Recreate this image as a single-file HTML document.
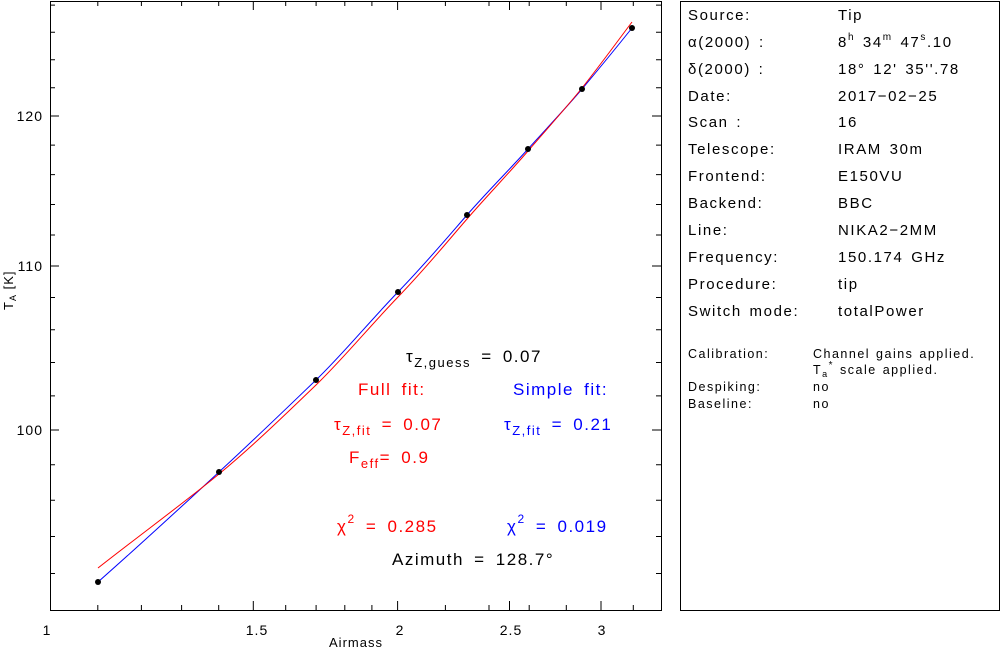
<!DOCTYPE html>
<html><head><meta charset="utf-8"><style>
html,body{margin:0;padding:0;background:#fff;}
svg{display:block;font-family:"Liberation Sans",sans-serif;}
</style></head><body>
<svg width="1001" height="649" viewBox="0 0 1001 649" xmlns="http://www.w3.org/2000/svg">
<rect x="50.5" y="1.5" width="611" height="609" fill="none" stroke="#000" stroke-width="1"/>
<rect x="680.5" y="1.5" width="319" height="609" fill="none" stroke="#000" stroke-width="1"/>
<g stroke="#000" stroke-width="1">
<path d="M50 116h9M50 266h9M50 430h9M661 116h-9M661 266h-9M661 430h-9"/>
<path d="M50 573.5h5M50 536.5h5M50 500.3h5M50 464.8h5M50 395.9h5M50 362.5h5M50 329.7h5M50 297.5h5M50 235h5M50 204.5h5M50 174.6h5M50 145.1h5M50 87.7h5M50 59.8h5M50 32.3h5M50 5.1h5"/>
<path d="M661 573.5h-5M661 536.5h-5M661 500.3h-5M661 464.8h-5M661 395.9h-5M661 362.5h-5M661 329.7h-5M661 297.5h-5M661 235h-5M661 204.5h-5M661 174.6h-5M661 145.1h-5M661 87.7h-5M661 59.8h-5M661 32.3h-5M661 5.1h-5"/>
<path d="M253.3 610v-9M397.6 610v-9M509.5 610v-9M601 610v-9M253.3 1v9M397.6 1v9M509.5 1v9M601 1v9"/>
<path d="M97.8 610v-5M141.4 610v-5M181.6 610v-5M218.7 610v-5M285.7 610v-5M316.1 610v-5M344.8 610v-5M371.9 610v-5M445.4 610v-5M489 610v-5M529.2 610v-5M566.3 610v-5M633.3 610v-5"/>
<path d="M97.8 1v5M141.4 1v5M181.6 1v5M218.7 1v5M285.7 1v5M316.1 1v5M344.8 1v5M371.9 1v5M445.4 1v5M489 1v5M529.2 1v5M566.3 1v5M633.3 1v5"/>
</g>
<g font-size="14" fill="#000" letter-spacing="1">
<text x="47" y="635" text-anchor="middle">1</text>
<text x="257" y="635" text-anchor="middle">1.5</text>
<text x="400" y="635" text-anchor="middle">2</text>
<text x="511" y="635" text-anchor="middle">2.5</text>
<text x="602" y="635" text-anchor="middle">3</text>
<text x="356" y="647" text-anchor="middle" font-size="13">Airmass</text>
<text x="43" y="121" text-anchor="end">120</text>
<text x="43" y="271" text-anchor="end">110</text>
<text x="43" y="435" text-anchor="end">100</text>
<text transform="translate(13,310) rotate(-90)" font-size="13">T<tspan font-size="9" dy="3">A</tspan><tspan dy="-3"> [K]</tspan></text>
</g>
<path d="M98 582 C140 545 180 508 219 472 S 290 405 316 380 S 370 321 398 292 S 447 238 467 215 S 510 169 528 149 S 566 108 582 89 S 620 43 632 28" fill="none" stroke="#00f" stroke-width="1"/>
<path d="M98 568 C140 535 185 502 219 474 S 290 410 316 385 S 370 326 398 297 S 447 242 467 219 S 510 172 528 151 S 566 108 582 88 S 620 38 632 22" fill="none" stroke="#f00" stroke-width="1"/>
<g fill="#000">
<circle cx="98" cy="582" r="3"/>
<circle cx="219" cy="472" r="3"/>
<circle cx="316" cy="380" r="3"/>
<circle cx="398" cy="292" r="3"/>
<circle cx="467" cy="215" r="3"/>
<circle cx="528" cy="149" r="3"/>
<circle cx="582" cy="89" r="3"/>
<circle cx="632" cy="28" r="3"/>
</g>
<g font-size="17" letter-spacing="1.5" word-spacing="4">
<text x="406" y="362" fill="#000">τ<tspan font-size="13" dy="5">Z,guess</tspan><tspan dy="-5"> = 0.07</tspan></text>
<text x="358" y="395" fill="#f00">Full fit:</text>
<text x="513" y="395" fill="#00f">Simple fit:</text>
<text x="334" y="430" fill="#f00">τ<tspan font-size="13" dy="5">Z,fit</tspan><tspan dy="-5"> = 0.07</tspan></text>
<text x="504" y="430" fill="#00f">τ<tspan font-size="13" dy="5">Z,fit</tspan><tspan dy="-5"> = 0.21</tspan></text>
<text x="349" y="463" fill="#f00">F<tspan font-size="13" dy="5">eff</tspan><tspan dy="-5">= 0.9</tspan></text>
<text x="337" y="532" fill="#f00">χ<tspan font-size="12" dy="-9">2</tspan><tspan dy="9"> = 0.285</tspan></text>
<text x="507" y="532" fill="#00f">χ<tspan font-size="12" dy="-9">2</tspan><tspan dy="9"> = 0.019</tspan></text>
<text x="392" y="565" fill="#000">Azimuth = 128.7°</text>
</g>
<g font-size="15" fill="#000" letter-spacing="1.6" word-spacing="2">
<text x="688" y="20">Source:</text><text x="838" y="20">Tip</text>
<text x="688" y="47">α(2000) :</text><text x="838" y="47">8<tspan font-size="10" dy="-7">h</tspan><tspan dy="7"> 34</tspan><tspan font-size="10" dy="-7">m</tspan><tspan dy="7"> 47</tspan><tspan font-size="10" dy="-7">s</tspan><tspan dy="7">.10</tspan></text>
<text x="688" y="74">δ(2000) :</text><text x="838" y="74">18° 12' 35''.78</text>
<text x="688" y="101">Date:</text><text x="838" y="101">2017−02−25</text>
<text x="688" y="127">Scan :</text><text x="838" y="127">16</text>
<text x="688" y="154">Telescope:</text><text x="838" y="154">IRAM 30m</text>
<text x="688" y="181">Frontend:</text><text x="838" y="181">E150VU</text>
<text x="688" y="208">Backend:</text><text x="838" y="208">BBC</text>
<text x="688" y="235">Line:</text><text x="838" y="235">NIKA2−2MM</text>
<text x="688" y="262">Frequency:</text><text x="838" y="262">150.174 GHz</text>
<text x="688" y="289">Procedure:</text><text x="838" y="289">tip</text>
<text x="688" y="316">Switch mode:</text><text x="838" y="316">totalPower</text>
</g>
<g font-size="12.5" fill="#000" letter-spacing="1.5" word-spacing="1">
<text x="688" y="358">Calibration:</text><text x="813" y="358">Channel gains applied.</text>
<text x="813" y="374">T<tspan font-size="9" dy="3">a</tspan><tspan font-size="10" dy="-9">*</tspan><tspan dy="6"> scale applied.</tspan></text>
<text x="688" y="391">Despiking:</text><text x="813" y="391">no</text>
<text x="688" y="408">Baseline:</text><text x="813" y="408">no</text>
</g>
</svg>
</body></html>
